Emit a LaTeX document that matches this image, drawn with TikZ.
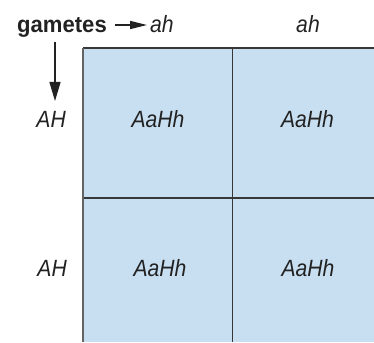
\documentclass[tikz,border=0pt]{standalone}
\usepackage{fontspec}
\setmainfont{Liberation Sans}
\newfontfamily\labelfont[FakeStretch=0.9]{Liberation Sans}
\newfontfamily\headfont[FakeStretch=0.96]{Liberation Sans}
\usetikzlibrary{arrows.meta}
\definecolor{cellblue}{RGB}{200,223,242}
\definecolor{ink}{RGB}{34,34,34}
\definecolor{gridline}{RGB}{55,55,55}
\definecolor{edgegray}{RGB}{100,100,100}
\begin{document}
\begin{tikzpicture}[x=1pt,y=-1pt,
  lbl/.style={font=\labelfont\fontsize{23.5}{26}\selectfont\itshape, text=ink, anchor=base, inner sep=0pt},
  head/.style={font=\headfont\fontsize{23}{26}\selectfont\bfseries, text=ink, anchor=base west, inner sep=0pt},
  gridrule/.style={draw=gridline, line width=1.3pt},
  pointer/.style={draw=ink, line width=1.3pt}]
\useasboundingbox (0,0) rectangle (374,342);

% square of offspring cells, running off the right and bottom edges
\fill[cellblue] (83,48) rectangle (374,342);
\draw[gridrule] (83,48) -- (374,48);
\draw[gridrule] (232.5,48) -- (232.5,342);
\draw[gridrule] (83,198) -- (374,198);
\draw[draw=edgegray, line width=2pt] (83,48) -- (83,342);

% header labels
\node[head] (gam) at (17,33) {gametes};
\node[lbl] (ah1) at (162,33) {ah};
\node[lbl] (ah2) at (308,33) {ah};
\node[lbl, anchor=base east] (AH1) at (66,127) {AH};
\node[lbl, anchor=base east] (AH2) at (67,276) {AH};

% offspring genotypes
\node[lbl] (c11) at (158,127) {AaHh};
\node[lbl] (c12) at (307.5,127) {AaHh};
\node[lbl] (c21) at (160,276) {AaHh};
\node[lbl] (c22) at (308,276) {AaHh};

% pointers from the "gametes" label
\coordinate (hstart) at (115,25);
\coordinate (hend) at (147,25);
\coordinate (vstart) at (55,42);
\coordinate (vend) at (55,101);
\draw[pointer, -{Triangle[length=17pt,width=8pt]}] (hstart) -- (hend);
\draw[pointer, -{Triangle[length=19pt,width=11pt]}] (vstart) -- (vend);
\end{tikzpicture}
\end{document}
